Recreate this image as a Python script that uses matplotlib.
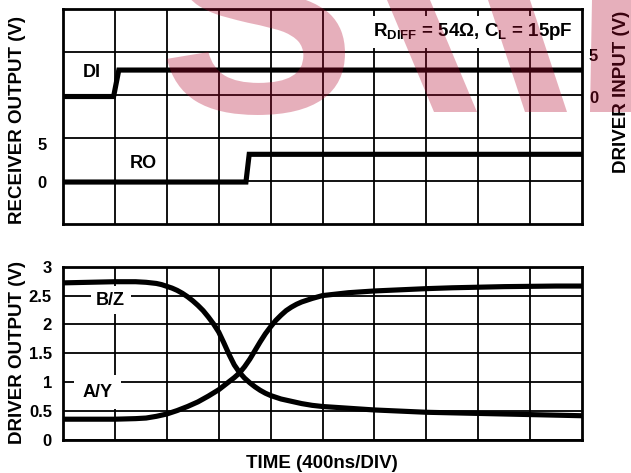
import matplotlib
matplotlib.use("Agg")
import matplotlib.pyplot as plt
from matplotlib.ticker import FixedLocator
from matplotlib.textpath import TextPath
from matplotlib.patches import PathPatch, Polygon
from matplotlib.path import Path
from matplotlib.font_manager import FontProperties

plt.rcParams["font.family"] = ["Liberation Sans", "DejaVu Sans"]
plt.rcParams["font.weight"] = "bold"
plt.rcParams["mathtext.fontset"] = "custom"
plt.rcParams["mathtext.rm"] = "Liberation Sans:bold"
plt.rcParams["mathtext.it"] = "Liberation Sans:bold"
plt.rcParams["mathtext.bf"] = "Liberation Sans:bold"

# ---- data -------------------------------------------------------------
NS_PER_DIV = 400
N_DIV = 10

# driver input DI and receiver output RO (time in ns, volts)
di_time = [0, 390, 430, 4000]
di_volts = [0.0, 0.0, 3.15, 3.15]
ro_time = [0, 1410, 1435, 4000]
ro_volts = [0.0, 0.0, 3.6, 3.6]

# differential driver outputs (time in divisions, volts)
bz_div = [0, 0.5, 1.0, 1.4, 1.6, 1.8, 1.9, 2.0, 2.1, 2.2, 2.3, 2.4, 2.5,
          2.6, 2.7, 2.8, 2.9, 3.0, 3.1, 3.2, 3.3, 3.4, 3.5, 3.6, 3.7, 3.8,
          3.9, 4.0, 4.2, 4.4, 4.6, 4.8, 5.0, 5.5, 6.0, 6.5, 7.0, 7.5, 8.0,
          8.5, 9.0, 9.5, 10]
bz_volts = [2.72, 2.73, 2.74, 2.74, 2.73, 2.71, 2.69, 2.66, 2.63, 2.59,
            2.54, 2.48, 2.41, 2.33, 2.24, 2.13, 2.01, 1.87, 1.68, 1.48,
            1.30, 1.17, 1.07, 0.99, 0.92, 0.86, 0.81, 0.77, 0.71, 0.67,
            0.63, 0.60, 0.58, 0.55, 0.52, 0.50, 0.48, 0.47, 0.46, 0.45,
            0.44, 0.43, 0.42]
ay_div = [0, 0.5, 1.0, 1.4, 1.6, 1.8, 2.0, 2.2, 2.4, 2.6, 2.8, 3.0, 3.1,
          3.2, 3.3, 3.4, 3.5, 3.6, 3.7, 3.8, 3.9, 4.0, 4.1, 4.2, 4.3, 4.4,
          4.5, 4.6, 4.8, 5.0, 5.5, 6.0, 6.5, 7.0, 7.5, 8.0, 8.5, 9.0, 9.5,
          10]
ay_volts = [0.36, 0.36, 0.36, 0.37, 0.38, 0.41, 0.45, 0.51, 0.58, 0.66,
            0.76, 0.87, 0.94, 1.01, 1.08, 1.16, 1.27, 1.40, 1.55, 1.70,
            1.84, 1.96, 2.07, 2.16, 2.24, 2.30, 2.35, 2.39, 2.45, 2.50,
            2.55, 2.58, 2.60, 2.62, 2.635, 2.645, 2.655, 2.66, 2.665, 2.665]

bottom_ticks = [0, 0.5, 1, 1.5, 2, 2.5, 3]
bottom_labels = ["0", "0.5", "1", "1.5", "2", "2.5", "3"]

# ---- figure -----------------------------------------------------------
W, H, DPI = 631, 473, 100
fig = plt.figure(figsize=(W / DPI, H / DPI), dpi=DPI)


def px_axes(x0, y0, x1, y1):
    return fig.add_axes([x0 / W, 1 - y1 / H, (x1 - x0) / W, (y1 - y0) / H])


def to_fig(x, y):
    return (x / W, 1 - y / H)


GRID_LW = 1.3
SPINE_LW = 2.0
TRACE_LW = 3.7
TICK_FS = 12
LABEL_FS = 13
TITLE_FS = 13.5
t_max = NS_PER_DIV * N_DIV
vgrid = [NS_PER_DIV * k for k in range(1, N_DIV)]


def style(ax):
    for s in ax.spines.values():
        s.set_linewidth(SPINE_LW)
        s.set_zorder(5)
    ax.set_xlim(0, t_max)
    ax.xaxis.set_major_locator(FixedLocator(vgrid))
    ax.tick_params(axis="x", length=0, labelbottom=False)
    ax.grid(True, axis="x", color="black", lw=GRID_LW, zorder=1)
    ax.set_axisbelow(True)


# top panel: receiver output (left scale) and driver input (right scale)
ax_top = px_axes(63, 9, 582, 224)
style(ax_top)
ro_lo, ro_hi = -5.45, 22.47
ax_top.set_ylim(ro_lo, ro_hi)
ax_top.set_yticks([0, 5])
ax_top.set_yticklabels(["0", "5"])
ax_top.yaxis.set_minor_locator(FixedLocator(
    [ro_lo + k * (ro_hi - ro_lo) / 5 for k in range(1, 5)]))
ax_top.tick_params(axis="y", which="major", length=0, pad=12,
                   labelsize=TICK_FS)
ax_top.tick_params(axis="y", which="minor", length=0)
ax_top.grid(True, axis="y", which="minor", color="black", lw=GRID_LW)
ax_top.plot(ro_time, ro_volts, color="black", lw=TRACE_LW, zorder=3,
            solid_joinstyle="miter")
ax_top.text(NS_PER_DIV * 1.54, 2.4, "RO", fontsize=LABEL_FS, ha="center",
            va="center", zorder=4)

ax_di = ax_top.twinx()
ax_di.set_ylim(-15.18, 10.42)
ax_di.set_yticks([0, 5])
ax_di.set_yticklabels(["0", "5"])
ax_di.tick_params(axis="y", length=0, pad=5, labelsize=TICK_FS)
for s in ax_di.spines.values():
    s.set_visible(False)
ax_di.plot(di_time, di_volts, color="black", lw=TRACE_LW, zorder=3,
           solid_joinstyle="miter")
ax_di.text(NS_PER_DIV * 0.56, 2.8, "DI", fontsize=LABEL_FS, ha="center",
           va="center", zorder=4)
ax_di.text(NS_PER_DIV * 9.83, 7.7,
           r"$\mathrm{R_{DIFF}}$ = 54Ω, $\mathrm{C_{L}}$ = 15pF",
           fontsize=13.5, ha="right", va="center", zorder=4,
           bbox=dict(facecolor="white", edgecolor="none", pad=4))

# bottom panel: driver outputs
ax_bot = px_axes(63, 266.7, 582, 440)
style(ax_bot)
ax_bot.set_ylim(0, 3)
ax_bot.set_yticks(bottom_ticks)
ax_bot.set_yticklabels(bottom_labels)
ax_bot.tick_params(axis="y", length=0, pad=8, labelsize=TICK_FS)
ax_bot.grid(True, axis="y", color="black", lw=GRID_LW)
ax_bot.plot([d * NS_PER_DIV for d in bz_div], bz_volts, color="black",
            lw=TRACE_LW, zorder=3)
ax_bot.plot([d * NS_PER_DIV for d in ay_div], ay_volts, color="black",
            lw=TRACE_LW, zorder=3)
ax_bot.text(NS_PER_DIV * 0.92, 2.42, "B/Z", fontsize=LABEL_FS, ha="center",
            va="center", zorder=4,
            bbox=dict(facecolor="white", edgecolor="none", pad=4))
ax_bot.text(NS_PER_DIV * 0.66, 0.83, "A/Y", fontsize=LABEL_FS, ha="center",
            va="center", zorder=4,
            bbox=dict(facecolor="white", edgecolor="none", pad=6))

# axis titles
fig.text(18 / W, 1 - 120 / H, "RECEIVER OUTPUT (V)", rotation=90,
         ha="center", va="center", fontsize=TITLE_FS)
fig.text(621 / W, 1 - 92 / H, "DRIVER INPUT (V)", rotation=90,
         ha="center", va="center", fontsize=TITLE_FS)
fig.text(18 / W, 1 - 352 / H, "DRIVER OUTPUT (V)", rotation=90,
         ha="center", va="center", fontsize=TITLE_FS)
fig.text(322 / W, 1 - 463 / H, "TIME (400ns/DIV)", ha="center",
         va="center", fontsize=TITLE_FS)

# translucent red watermark lettering laid over the upper part of the sheet
WM_COLOR = (180 / 255, 8 / 255, 46 / 255)
WM_ALPHA = 0.32
wm_style = dict(facecolor=WM_COLOR, edgecolor="none", alpha=WM_ALPHA,
                transform=fig.transFigure, zorder=100)

glyph = TextPath((0, 0), "S", size=100,
                 prop=FontProperties(family="Liberation Sans",
                                     weight="bold"))
ext = glyph.get_extents()
gs = (345 - 167) / ext.width
glyph_verts = [to_fig(167 + (vx - ext.x0) * gs, 115 - (vy - ext.y0) * gs)
               for vx, vy in glyph.vertices]
fig.add_artist(PathPatch(Path(glyph_verts, glyph.codes), **wm_style))

for shape in ([(387, 0), (430, 0), (477, 112), (434, 112)],
              [(488, 0), (530, 0), (567, 112), (525, 112)],
              [(592, 0), (631, 0), (631, 112), (590, 112)]):
    fig.add_artist(Polygon([to_fig(x, y) for x, y in shape], closed=True,
                           **wm_style))

fig.savefig("out.png", dpi=DPI)
